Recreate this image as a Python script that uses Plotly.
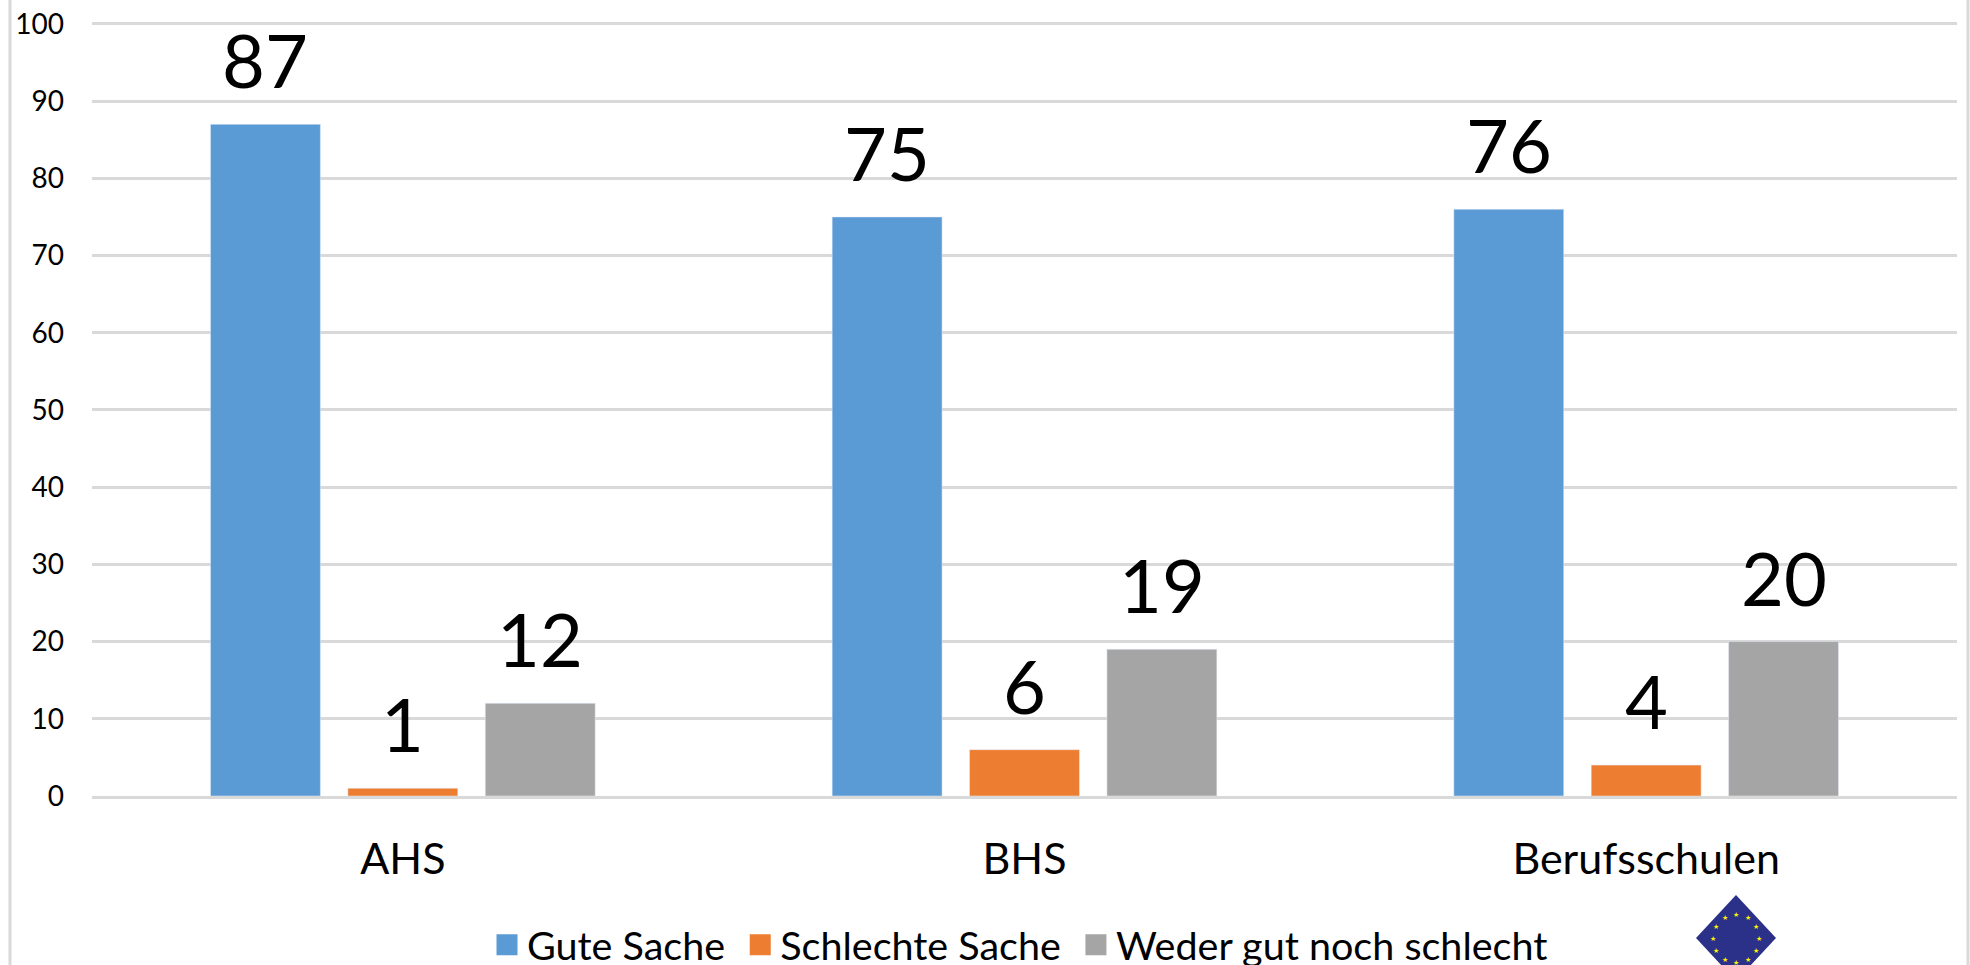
import math
import plotly.graph_objects as go

categories = ["AHS", "BHS", "Berufsschulen"]
series_names = ["Gute Sache", "Schlechte Sache", "Weder gut noch schlecht"]
legend_names = ["Gute Sache\u00a0", "Schlechte Sache\u00a0", "Weder gut noch schlecht"]
gute = [87, 75, 76]
schlechte = [1, 6, 4]
weder = [12, 19, 20]
colors = ["#5B9BD5", "#ED7D31", "#A5A5A5"]

W, H = 1970, 1015  # taller than the window: the legend must not push the plot area up
FONT = "Lato, Carlito, Calibri, sans-serif"
L, R, T, B = 92, 1957, 22, 796
YMAX = 100.25
BARGAP, GROUPGAP = 0.337, 0.2

fig = go.Figure()
slot = (1 - BARGAP) / 3
annotations = []
for k, (name, vals, col) in enumerate(zip(series_names, [gute, schlechte, weder], colors)):
    fig.add_trace(go.Bar(x=categories, y=vals, name=name, marker_color=col, showlegend=False))
    for i, v in enumerate(vals):
        annotations.append(dict(
            x=i + (k - 1) * slot, y=v, xref="x", yref="y", text=str(v), showarrow=False,
            xanchor="center", yanchor="bottom", yshift=18,
            font=dict(size=74, color="#000000", family=FONT),
        ))
for name, col in zip(legend_names, colors):
    fig.add_trace(go.Scatter(
        x=[None], y=[None], mode="markers", name=name,
        marker=dict(symbol="square", size=16, color=col, line=dict(color=col, width=5)),
    ))

def px(x):
    return (x - L) / (R - L)

def py(y):
    return (B - y) / (B - T)

shapes = [
    dict(type="line", xref="paper", yref="paper", x0=px(x), x1=px(x), y0=py(0), y1=py(H),
         line=dict(color="#D9D9D9", width=3), layer="below")
    for x in (10, 1968)
]
# EU emblem, cut off by the bottom edge of the picture
cx, cy = 1736, 938
shapes.append(dict(
    type="path", xref="paper", yref="paper", fillcolor="#2B3189", line=dict(width=0),
    path=f"M{px(cx)},{py(cy-43)} L{px(cx+40)},{py(cy)} L{px(cx)},{py(cy+43)} L{px(cx-40)},{py(cy)} Z",
))
for i in range(12):
    a = math.radians(i * 30)
    annotations.append(dict(
        xref="paper", yref="paper", x=px(cx + 23 * math.sin(a)), y=py(cy - 24 * math.cos(a)),
        text="★", showarrow=False, font=dict(size=7, color="#FFF200"),
        xanchor="center", yanchor="middle",
    ))

fig.update_layout(
    width=W, height=H, autosize=False,
    margin=dict(l=L, r=W - R, t=T, b=H - B),
    paper_bgcolor="#FFFFFF", plot_bgcolor="#FFFFFF",
    font=dict(family=FONT, color="#000000"),
    barmode="group", bargap=BARGAP, bargroupgap=GROUPGAP,
    xaxis=dict(showgrid=False, showline=True, linecolor="#D9D9D9", linewidth=3, ticks="",
               automargin=False,
               tickfont=dict(size=43, family=FONT), ticklabelstandoff=23),
    yaxis=dict(range=[0, YMAX], tick0=0, dtick=10, gridcolor="#D9D9D9", gridwidth=2.5,
               zeroline=False, showline=False, ticks="", automargin=False,
               tickfont=dict(size=28, family=FONT), ticklabelstandoff=27),
    legend=dict(orientation="h", x=px(1020), xanchor="center", xref="paper", yref="paper",
                y=py(945), yanchor="middle", font=dict(size=39.5, family=FONT),
                bgcolor="rgba(0,0,0,0)"),
    shapes=shapes, annotations=annotations,
)
fig.write_html("out.html", config={"displayModeBar": False},
               post_script="document.body.style.margin='0';document.body.style.overflow='hidden';")
